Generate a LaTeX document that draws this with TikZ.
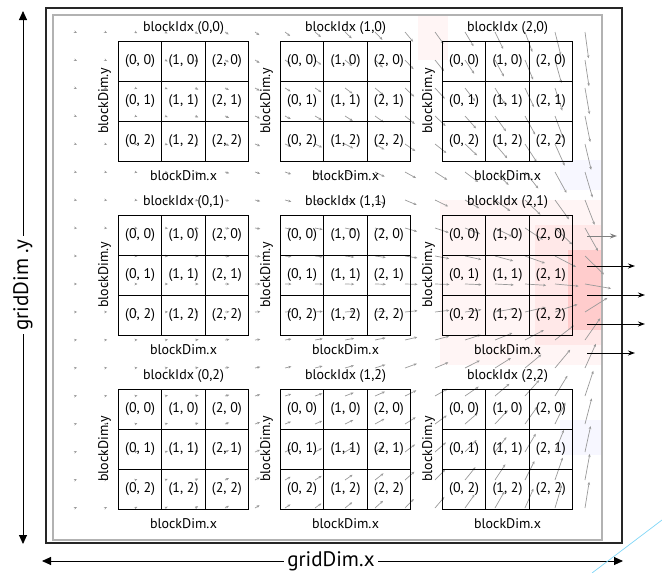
\documentclass[tikz,border=0pt]{standalone}
\usepackage{fontspec}
\setmainfont{PT Sans}
\usetikzlibrary{arrows.meta}
\begin{document}
\begin{tikzpicture}[x=1pt,y=-1pt,
  cell/.style={draw=black,line width=0.8pt,minimum width=43.33pt,minimum height=40pt,inner sep=0pt,font=\fontsize{14}{16}\selectfont},
  lbl/.style={font=\fontsize{14}{16}\selectfont,inner sep=1pt},
  axis/.style={line width=0.9pt,{Triangle[length=9pt,width=8pt]}-{Triangle[length=9pt,width=8pt]}},
  axlbl/.style={fill=white,inner sep=3pt,font=\fontsize{21}{24}\selectfont},
  field/.style={draw=gray!80,line width=0.7pt,-{Stealth[length=3pt,width=2.6pt]}},
  outflow/.style={draw=black,line width=0.9pt,-{Stealth[length=7pt,width=5pt]}}]
\useasboundingbox (0,0) rectangle (662,573);
% faint background tints
\fill[red!4] (418,15) rectangle (448,60);
\fill[blue!3] (560,160) rectangle (601,190);
\fill[red!4] (440,200) rectangle (601,365);
\fill[red!9] (535,225) rectangle (601,345);
\fill[red!20] (568,250) rectangle (601,330);
\fill[blue!3] (560,420) rectangle (601,455);
% frames
\draw[gray!60,line width=1.5pt] (53,15) rectangle (602,540);
\draw[black!85,line width=1.1pt] (46,8) rectangle (622,543);
% vector field
\foreach \x in {75,105,...,585}{
  \foreach \y in {32,60,...,530}{
    \pgfmathsetmacro\L{2+24*((\x-60)/520)^2}
    \pgfmathsetmacro\d{veclen(620-\x,290-\y)}
    \pgfmathsetmacro\ex{\x+\L*(620-\x)/\d}
    \pgfmathsetmacro\ey{\y+\L*(290-\y)/\d}
    \draw[field] (\x,\y) -- (\ex,\ey);
  }
}
% outflow arrows at the right
\foreach \yy/\xe/\c in {236/617/gray,266/635/black,295/645/black,324/645/black,353/635/black}{
  \coordinate (os\yy) at (587,\yy);
  \coordinate (oe\yy) at (\xe,\yy);
  \draw[outflow,draw=\c] (os\yy) -- (oe\yy);
}
% blocks
\foreach \bx in {0,1,2}{
  \foreach \by in {0,1,2}{
    \pgfmathsetmacro\xo{118.5+162*\bx}
    \pgfmathsetmacro\yo{41+174*\by}
    \foreach \cx in {0,1,2}{
      \foreach \cy in {0,1,2}{
        \node[cell] (b\bx\by c\cx\cy) at (\xo+43.33*\cx+21.67,\yo+40*\cy+20) {(\cx, \cy)};
      }
    }
    \node[lbl] (t\bx\by) at (\xo+65,\yo-13) {blockIdx (\bx,\by)};
    \node[lbl] (dx\bx\by) at (\xo+65,\yo+135) {blockDim.x};
    \node[lbl,rotate=90] (dy\bx\by) at (\xo-14,\yo+60) {blockDim.y};
  }
}
% axes
\coordinate (ytop) at (23,11);
\coordinate (ybot) at (23,544);
\draw[axis] (ytop) -- (ybot);
\node[axlbl,rotate=90] (ylab) at (23,285) {gridDim .y};
\coordinate (xl) at (42,561);
\coordinate (xr) at (623,561);
\draw[axis] (xl) -- (xr);
\node[axlbl] (xlab) at (331,561) {gridDim.x};
% stray cyan stroke
\coordinate (c1) at (592,573);
\coordinate (c2) at (662,520);
\draw[cyan!50,line width=0.7pt] (c1) -- (c2);
\end{tikzpicture}
\end{document}
